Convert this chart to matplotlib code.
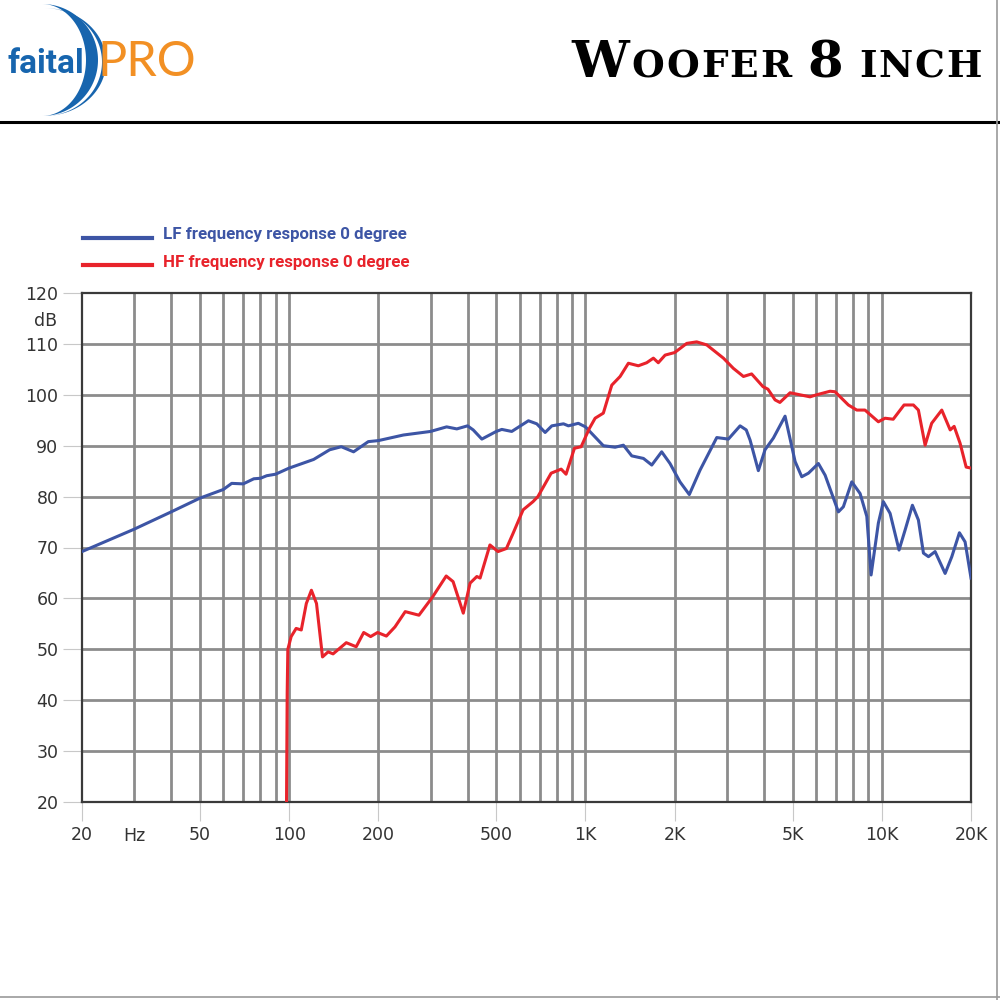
import numpy as np
import matplotlib.pyplot as plt
from matplotlib.patches import Polygon
from matplotlib.lines import Line2D
import matplotlib.transforms as mtransforms

# LF curve (blue) - frequency in Hz, level in dB
lf_freq = [20, 30, 40, 50, 60, 64, 70, 76, 80, 84, 90, 100, 121, 137, 150, 165, 185, 200, 243, 300,
           340, 368, 400, 418, 447, 500, 522, 564, 642, 685, 731, 770, 843, 876, 946, 1000, 1149, 1259,
           1343, 1433, 1569, 1674, 1808, 1929, 2084, 2241, 2436, 2774, 3036, 3325, 3488, 3594, 3832,
           4036, 4307, 4716, 5098, 5369, 5655, 6110, 6438, 7137, 7418, 7919, 8449, 8901, 9202, 9737,
           10121, 10666, 11434, 11981, 12685, 13290, 13820, 14372, 15130, 16358, 17230, 18279, 19102, 20000]
lf_db = [69.2, 73.6, 77.0, 79.7, 81.4, 82.6, 82.5, 83.5, 83.6, 84.1, 84.4, 85.6, 87.3, 89.2, 89.8,
         88.8, 90.8, 91.0, 92.1, 92.8, 93.7, 93.3, 93.9, 93.1, 91.3, 92.8, 93.2, 92.8, 94.9, 94.3,
         92.6, 93.9, 94.3, 93.9, 94.4, 93.7, 90.0, 89.7, 90.1, 88.0, 87.5, 86.2, 88.8, 86.5, 82.9,
         80.4, 85.2, 91.6, 91.3, 93.9, 93.1, 91.1, 85.1, 89.2, 91.5, 95.8, 86.9, 83.9, 84.6, 86.5,
         84.2, 77.0, 78.0, 82.9, 80.6, 76.1, 64.6, 74.8, 79.0, 76.7, 69.5, 73.4, 78.3, 75.4, 68.9,
         68.2, 69.2, 64.9, 68.2, 72.9, 71.1, 64.0]

# HF curve (red)
hf_freq = [98, 98.5, 99, 101.6, 105.6, 109.9, 114.3, 118.9, 123.7, 129.6, 135.4, 140.7, 155.9, 168.4,
           178.5, 188.4, 198.8, 212.9, 227.6, 246.5, 274.2, 305, 338.9, 357.5, 387, 408, 430, 441, 476,
           507, 541, 570, 616, 665, 691, 766, 828, 860, 918, 967, 1031, 1078, 1149, 1227, 1309, 1396,
           1508, 1609, 1695, 1761, 1857, 2000, 2197, 2373, 2567, 2921, 3155, 3413, 3637, 3973, 4129,
           4364, 4530, 4904, 5297, 5724, 6025, 6689, 6954, 7713, 8234, 8775, 9737, 10255, 10926,
           11889, 12784, 13290, 14002, 14731, 15937, 17013, 17544, 18370, 19262, 20000]
hf_db = [20.0, 41.4, 50.0, 52.5, 54.1, 53.8, 59.0, 61.6, 59.0, 48.5, 49.5, 49.1, 51.3, 50.5, 53.3,
         52.5, 53.3, 52.6, 54.4, 57.4, 56.7, 60.3, 64.4, 63.3, 57.1, 63.0, 64.3, 64.0, 70.5, 69.2,
         69.8, 72.8, 77.4, 79.0, 80.0, 84.6, 85.4, 84.4, 89.5, 89.8, 93.4, 95.4, 96.4, 101.9, 103.6,
         106.2, 105.7, 106.3, 107.2, 106.3, 107.8, 108.3, 110.1, 110.4, 109.8, 107.2, 105.2, 103.6,
         104.1, 101.6, 101.1, 99.0, 98.5, 100.4, 100.0, 99.6, 100.0, 100.7, 100.6, 98.0, 97.0, 97.0,
         94.7, 95.4, 95.2, 98.0, 98.0, 97.0, 90.1, 94.4, 97.0, 93.1, 93.8, 90.5, 85.8, 85.6]

x_ticks = [20, 50, 100, 200, 500, 1000, 2000, 5000, 10000, 20000]
x_labels = ['20', '50', '100', '200', '500', '1K', '2K', '5K', '10K', '20K']
y_ticks = [20, 30, 40, 50, 60, 70, 80, 90, 100, 110, 120]
grid_freqs = [m * 10 ** e for e in range(1, 5) for m in range(1, 10)]

title = 'Woofer 8 inch'

BLUE = '#3d55a5'
RED = '#e8232b'
GRID = '#8c8c8c'

fig = plt.figure(figsize=(10, 10), dpi=100)

# ---- chart ----
ax = fig.add_axes([0.082, 0.198, 0.889, 0.509])
ax.set_xscale('log')
ax.set_xlim(20, 20000)
ax.set_ylim(20, 120)

for f in grid_freqs:
    if 20 < f < 20000:
        ax.axvline(f, color=GRID, lw=2.0, zorder=1)
for v in y_ticks[1:-1]:
    ax.axhline(v, color=GRID, lw=2.0, zorder=1)

ax.plot(lf_freq, lf_db, color=BLUE, lw=2.2, zorder=3, solid_joinstyle='round')
ax.plot(hf_freq, hf_db, color=RED, lw=2.2, zorder=3, solid_joinstyle='round')

for s in ax.spines.values():
    s.set_color('#3a3a3a')
    s.set_linewidth(1.6)

ax.set_xticks(x_ticks)
ax.set_xticklabels(x_labels)
ax.xaxis.set_minor_locator(plt.NullLocator())
ax.set_yticks(y_ticks)
ax.tick_params(axis='x', length=14, width=0.8, color='#c8c8c8', pad=3,
               labelsize=12.5, labelcolor='#333333')
ax.tick_params(axis='y', length=14, width=0.8, color='#c8c8c8', pad=3,
               labelsize=12.5, labelcolor='#333333')

blend = mtransforms.blended_transform_factory(ax.transData, ax.transAxes)
ax.text(30, -0.066, 'Hz', transform=blend, ha='center', va='center',
        fontsize=12.5, color='#333333')
ax.text(-0.028, 0.945, 'dB', transform=ax.transAxes, ha='right', va='center',
        fontsize=12.5, color='#333333')

# ---- legend ----
fig.add_artist(Line2D([0.083, 0.152], [0.762, 0.762], color=BLUE, lw=3))
fig.add_artist(Line2D([0.083, 0.152], [0.735, 0.735], color=RED, lw=3))
fig.text(0.163, 0.765, 'LF frequency response 0 degree', color=BLUE, fontsize=12.2,
         fontweight='bold', family='Roboto', va='center')
fig.text(0.163, 0.738, 'HF frequency response 0 degree', color=RED, fontsize=12.2,
         fontweight='bold', family='Roboto', va='center')

# ---- header: title in small caps, laid out char by char ----
renderer = fig.canvas.get_renderer()
texts = []
x = 0.0
track = 2.0 / 1000
for ch in title:
    size = 37 if (ch.isupper() or ch.isdigit()) else 27
    t = fig.text(x, 0.923, ch.upper(), fontsize=size, fontweight='bold', family='DejaVu Serif',
                 color='black', va='baseline', ha='left')
    if ch == ' ':
        w = 0.012
    else:
        w = t.get_window_extent(renderer).width / fig.bbox.width
    texts.append(t)
    x += w + track
shift = 0.982 - (x - track)
for t in texts:
    t.set_x(t.get_position()[0] + shift)

fig.add_artist(Line2D([0, 1], [0.878, 0.878], color='black', lw=2.2))
fig.add_artist(Line2D([0.997, 0.997], [0, 1], color='#9a9a9a', lw=1.2))
fig.add_artist(Line2D([0, 1], [0.003, 0.003], color='#9a9a9a', lw=1.2))

# ---- logo ----
lax = fig.add_axes([0, 0.875, 0.2, 0.125])
lax.set_xlim(0, 200)
lax.set_ylim(125, 0)
lax.axis('off')
th = np.linspace(-np.pi / 2, np.pi / 2, 80)


def crescent(cx, cy, a_out, a_in, b):
    outer = np.column_stack([cx + a_out * np.cos(th), cy + b * np.sin(th)])
    inner = np.column_stack([cx + a_in * np.cos(th[::-1]), cy + b * np.sin(th[::-1])])
    return Polygon(np.vstack([outer, inner]), closed=True, color='#1765ae', lw=0)


lax.add_patch(crescent(42, 60, 56, 44, 56))
lax.add_patch(crescent(44, 62, 62, 58, 54))
lax.text(8, 64, 'faital', fontsize=24, fontweight='bold', color='#1765ae',
         family='Roboto', va='center', ha='left')
lax.text(98, 62, 'PRO', fontsize=35, fontweight='normal', color='#f29024',
         family='Lato', va='center', ha='left')

fig.savefig('out.png', dpi=100, facecolor='white')
